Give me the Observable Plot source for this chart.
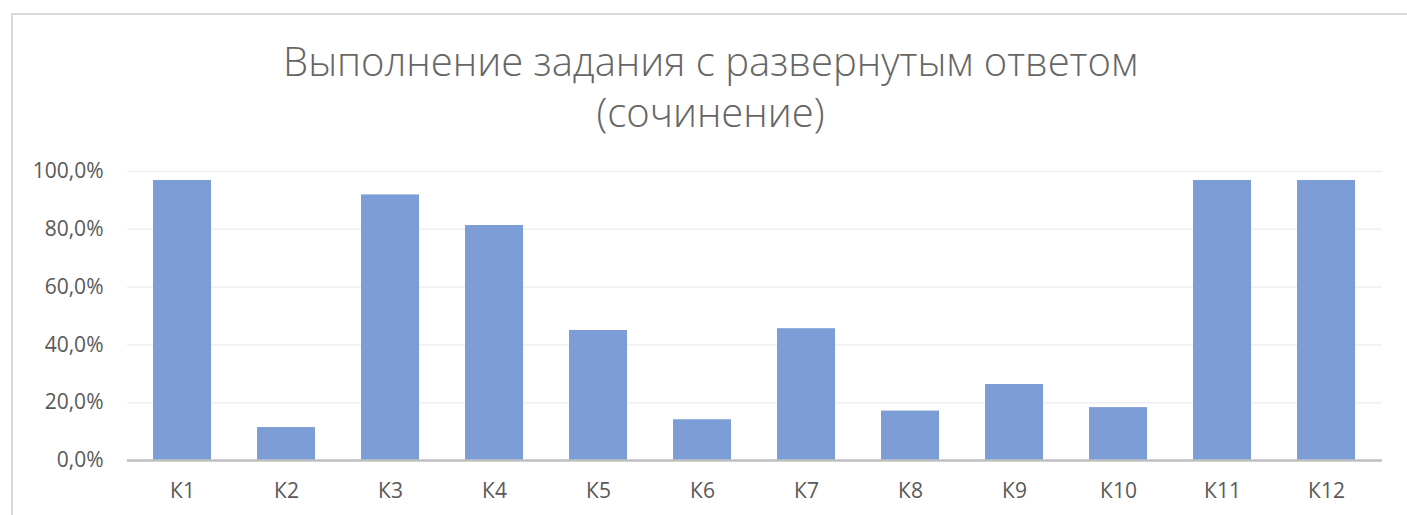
<!DOCTYPE html>
<html><head><meta charset="utf-8">
<script src="https://cdn.jsdelivr.net/npm/d3@7"></script>
<script src="https://cdn.jsdelivr.net/npm/@observablehq/plot@0.6"></script>
<style>
html,body{margin:0;padding:0;background:#fff;overflow:hidden;width:1407px;height:515px;}
#frame{position:absolute;left:11px;top:13px;width:1500px;height:600px;border:2px solid #d9d9d9;box-sizing:border-box;}
#wrap{position:relative;width:1407px;height:515px;}
#title{position:relative;height:145px;text-align:center;font-family:"Open Sans",sans-serif;font-weight:300;font-size:40px;color:#666666;line-height:51px;padding-top:35px;box-sizing:border-box;padding-left:14px;}
#chart{position:relative;}
</style></head>
<body>
<div id="wrap">
<div id="frame"></div>
<div id="title">Выполнение задания с развернутым ответом<br>(сочинение)</div>
<div id="chart"></div>
</div>
<script>
const categories = ["К1","К2","К3","К4","К5","К6","К7","К8","К9","К10","К11","К12"];
const values = [0.969, 0.114, 0.919, 0.813, 0.450, 0.141, 0.456, 0.171, 0.263, 0.183, 0.969, 0.969];
const yTicks = [0, 0.2, 0.4, 0.6, 0.8, 1.0];

const data = categories.map((c, i) => ({k: c, v: values[i]}));
const fmt = d => (d * 100).toFixed(1).replace(".", ",") + "%";

const plot = Plot.plot({
  width: 1407,
  height: 370,
  marginTop: 26,
  marginBottom: 55,
  marginLeft: 127,
  marginRight: 25,
  style: {fontFamily: "'Open Sans', sans-serif", fontSize: "21px", color: "#595959", background: "transparent"},
  x: {domain: categories, paddingInner: 0.44, paddingOuter: 0.22, label: null, tickSize: 0, tickPadding: 23},
  y: {domain: [0, 1], ticks: yTicks, tickFormat: fmt, label: null, tickSize: 0, tickPadding: 24},
  marks: [
    Plot.ruleY(yTicks.slice(1), {stroke: "#efefef", strokeWidth: 1.5}),
    Plot.barY(data, {x: "k", y: "v", fill: "#7c9dd5"}),
    Plot.ruleY([0], {stroke: "#bfbfbf", strokeWidth: 2.5})
  ]
});
document.getElementById("chart").appendChild(plot);
</script>
</body></html>
